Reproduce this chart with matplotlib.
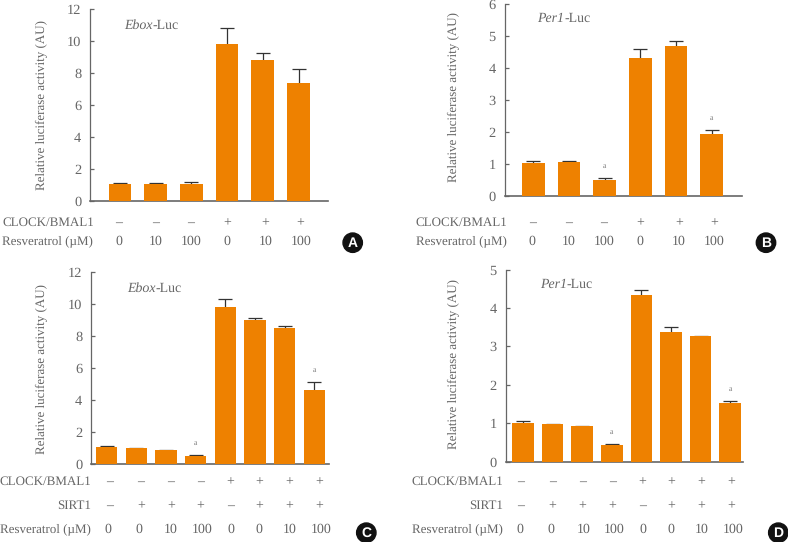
import matplotlib
matplotlib.use("Agg")
from matplotlib import pyplot as plt
from matplotlib.patches import Circle

plt.rcParams['font.family'] = ['Liberation Serif', 'DejaVu Sans']
plt.rcParams['text.hinting'] = 'none'

W, H = 788, 542
GRAY = '#666666'
ORANGE = '#ee8100'

# values
a_vals = [1.05, 1.05, 1.03, 9.82, 8.85, 7.38]
a_tops = [1.08, 1.08, 1.20, 10.8, 9.27, 8.25]
b_vals = [1.03, 1.07, 0.50, 4.33, 4.70, 1.93]
b_tops = [1.10, 1.10, 0.55, 4.60, 4.85, 2.05]
c_vals = [1.05, 1.00, 0.88, 0.50, 9.82, 9.00, 8.50, 4.65]
c_tops = [1.10, 1.03, 0.90, 0.55, 10.35, 9.12, 8.63, 5.12]
d_vals = [1.02, 0.97, 0.93, 0.43, 4.33, 3.38, 3.26, 1.52]
d_tops = [1.06, 0.98, 0.94, 0.45, 4.47, 3.51, 3.26, 1.57]

# table rows under the axes
clock6 = ['–', '–', '–', '+', '+', '+']
resv6 = ['0', '10', '100', '0', '10', '100']
clock8 = ['–', '–', '–', '–', '+', '+', '+', '+']
sirt8 = ['–', '+', '+', '+', '–', '+', '+', '+']
resv8 = ['0', '0', '10', '100', '0', '0', '10', '100']

fig = plt.figure(figsize=(W / 100, H / 100), dpi=100)


def put(x, y, s, **kw):
    # pixel coords from the top left of the image
    kw.setdefault('color', GRAY)
    kw.setdefault('fontsize', 9.3)
    kw.setdefault('va', 'center')
    return fig.text(x / W, 1 - y / H, s, **kw)


def panel(box, vals, tops, ymax, ystep, x0, step, width, gene, gene_xy, ylab_xy, marked):
    left, top, right, bottom = box
    ax = fig.add_axes([left / W, 1 - bottom / H, (right - left) / W, (bottom - top) / H])
    xs = list(range(len(vals)))
    ax.bar(xs, vals, width=width / step, color=ORANGE, zorder=3)
    ax.vlines(xs, vals, tops, color='#333333', lw=0.9, zorder=2)
    ax.plot(xs, tops, ls='none', marker='_', ms=10, mew=0.9, color='#333333', zorder=2)
    for i in marked:
        ax.annotate('a', (i, tops[i]), xytext=(0, 9), textcoords='offset pixels',
                    ha='center', va='bottom', fontsize=5.5, color='#777777')
    ax.set_xlim((left - x0) / step, (right - x0) / step)
    ax.set_ylim(0, ymax)
    ax.set_yticks(range(0, ymax + 1, ystep))
    ax.set_xticks([])
    ax.tick_params(axis='y', direction='in', length=3, width=0.9, color=GRAY,
                   labelcolor=GRAY, labelsize=10.4, pad=6.5)
    ax.spines['top'].set_visible(False)
    ax.spines['right'].set_visible(False)
    ax.spines['left'].set_color(GRAY)
    ax.spines['bottom'].set_color(GRAY)
    ax.spines['left'].set_linewidth(0.9)
    ax.spines['bottom'].set_linewidth(1.2)
    # italic gene name, then the plain suffix right after it
    name, suffix = gene
    t = put(gene_xy[0], gene_xy[1], name, ha='left', fontsize=10, style='italic')
    end = t.get_window_extent(fig.canvas.get_renderer()).x1
    put(end / 1, gene_xy[1], suffix, ha='left', fontsize=10)
    put(ylab_xy[0], ylab_xy[1], 'Relative luciferase activity (AU)', rotation=90,
        ha='center', fontsize=9.4)


def row(label, label_right, y, marks, positions, fontsize=10):
    put(label_right, y, label, ha='right', fontsize=9.4)
    for s, x in zip(marks, positions):
        put(x, y, s, ha='center', fontsize=fontsize)


def badge(x, y, letter):
    fig.add_artist(Circle((x, H - y), 9.7, transform=None, color='#111111'))
    put(x, y + 0.3, letter, ha='center', color='white', fontsize=10,
        family='Liberation Sans', fontweight='bold')


panel((90.3, 9.3, 327.7, 200.7), a_vals, a_tops, 12, 2, 120, 35.7, 22.7,
      ('Ebox', '-Luc'), (124, 25), (40.7, 105), [])
panel((504.7, 4.3, 741.7, 195.7), b_vals, b_tops, 6, 1, 533.3, 35.7, 22.7,
      ('Per1', '-Luc'), (537.3, 18), (453, 97), [2, 5])
panel((91.3, 272.3, 328.7, 464), c_vals, c_tops, 12, 2, 106.7, 29.67, 21.3,
      ('Ebox', '-Luc'), (127, 288.3), (40.7, 368.7), [3, 7])
panel((505.7, 269.6, 742.7, 461.7), d_vals, d_tops, 5, 1, 523, 29.6, 21.7,
      ('Per1', '-Luc'), (539.7, 284.7), (453, 364), [3, 7])

ax6 = [119, 155.3, 190.7, 227, 265.7, 300.7]
bx6 = [532.3, 568.3, 604, 640.3, 679, 714]
row('CLOCK/BMAL1', 94.3, 222.7, clock6, ax6)
row('Resveratrol (µM)', 93.3, 241.3, resv6, ax6)
row('CLOCK/BMAL1', 507.3, 222.7, clock6, bx6)
row('Resveratrol (µM)', 506.7, 241.3, resv6, bx6)

cx8 = [109.3, 141, 171, 200.7, 230.7, 259.3, 289.3, 319.3]
cr8 = [107.7, 139.3, 171, 201.7, 230.7, 259, 290, 321.3]
dx8 = [521, 552.7, 582.7, 612.3, 642.3, 671, 701, 731]
dr8 = [519.7, 551.3, 583.3, 613.7, 643, 671, 701.7, 733.3]
row('CLOCK/BMAL1', 91.5, 482, clock8, cx8)
row('SIRT1', 91.5, 505.7, sirt8, cx8)
row('Resveratrol (µM)', 91, 529, resv8, cr8)
row('CLOCK/BMAL1', 503.3, 482, clock8, dx8)
row('SIRT1', 503.5, 505.7, sirt8, dx8)
row('Resveratrol (µM)', 502.5, 529, resv8, dr8)

badge(352.7, 242.7, 'A')
badge(766, 242.7, 'B')
badge(366.3, 532.7, 'C')
badge(778.3, 532.7, 'D')

fig.savefig('out.png', dpi=100)
